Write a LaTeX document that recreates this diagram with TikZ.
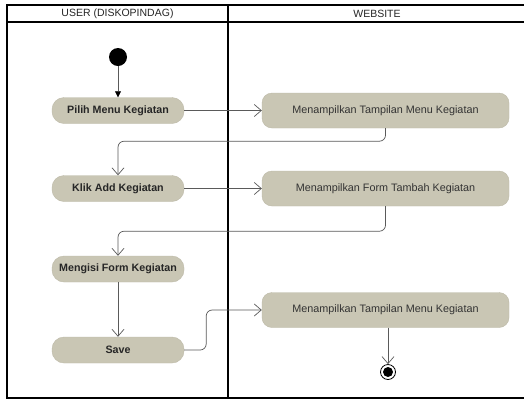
\documentclass[tikz,border=0pt]{standalone}
\usepackage{fontspec}
\setmainfont{Liberation Sans}
\usetikzlibrary{arrows.meta}
\definecolor{actfill}{HTML}{C9C6B4}
\definecolor{actline}{HTML}{BDBAA8}
\definecolor{flowgray}{HTML}{5A5A5A}
\tikzset{
  lane/.style={line width=1.8pt, black},
  useract/.style={rectangle, rounded corners=12pt, fill=actfill, draw=actline,
    minimum width=132pt, minimum height=26pt, inner sep=0pt,
    font=\fontsize{10.7}{12}\selectfont\bfseries, text=black!85},
  webact/.style={rectangle, rounded corners=10pt, fill=actfill, draw=actline,
    minimum width=247pt, minimum height=35pt, inner sep=0pt,
    font=\fontsize{10.8}{12}\selectfont, text=black!80},
  flow/.style={draw=flowgray, line width=0.7pt,
    -{Straight Barb[length=7pt,width=12pt,line width=0.7pt]}},
  initflow/.style={draw=flowgray, line width=0.7pt,
    -{Triangle[length=6pt,width=6pt,fill=black,color=black]}},
  lanehead/.style={font=\fontsize{10.5}{12}\selectfont, text=black!85},
}
\begin{document}
\begin{tikzpicture}[x=1pt,y=-1pt]
\useasboundingbox (0,0) rectangle (524,400);
\fill[white] (0,0) rectangle (524,400);

% swimlane frame
\draw[lane] (7,5) rectangle (528,398);
\draw[lane] (7,22) -- (528,22);
\draw[lane] (228,5) -- (228,398);
\node[lanehead] (hUser) at (117.5,13.5) {USER (DISKOPINDAG)};
\node[lanehead] (hWeb) at (377,13.5) {WEBSITE};

% initial and final states
\node[circle, fill=black, minimum size=18pt, inner sep=0pt] (start) at (118,57) {};
\node[circle, draw=black, line width=0.8pt, fill=white, minimum size=15pt, inner sep=0pt] (end) at (388,372) {};
\fill[black] (end.center) circle (5pt);

% activities
\node[useract] (pilih) at (118,110.5) {Pilih Menu Kegiatan};
\node[useract] (klik) at (118,188.5) {Klik Add Kegiatan};
\node[useract] (isi) at (118,269) {Mengisi Form Kegiatan};
\node[useract] (save) at (118,350) {Save};

\node[webact] (tampil1) at (385.5,110.5) {Menampilkan Tampilan Menu Kegiatan};
\node[webact] (form) at (385.5,188.5) {Menampilkan Form Tambah Kegiatan};
\node[webact] (tampil2) at (385.5,310) {Menampilkan Tampilan Menu Kegiatan};

% control flow
\draw[initflow] (start) -- (pilih);
\draw[flow] (pilih) -- (tampil1);
\draw[flow, rounded corners=6pt] (tampil1.south) -- ++(0,13) -| (klik.north);
\draw[flow] (klik) -- (form);
\draw[flow, rounded corners=6pt] (form.south) -- ++(0,25) -| (isi.north);
\draw[flow] (isi) -- (save);
\draw[flow, rounded corners=6pt] (save.east) -- ++(22,0) |- (tampil2.west);
\draw[flow] (end |- tampil2.south) -- (end);
\end{tikzpicture}
\end{document}
